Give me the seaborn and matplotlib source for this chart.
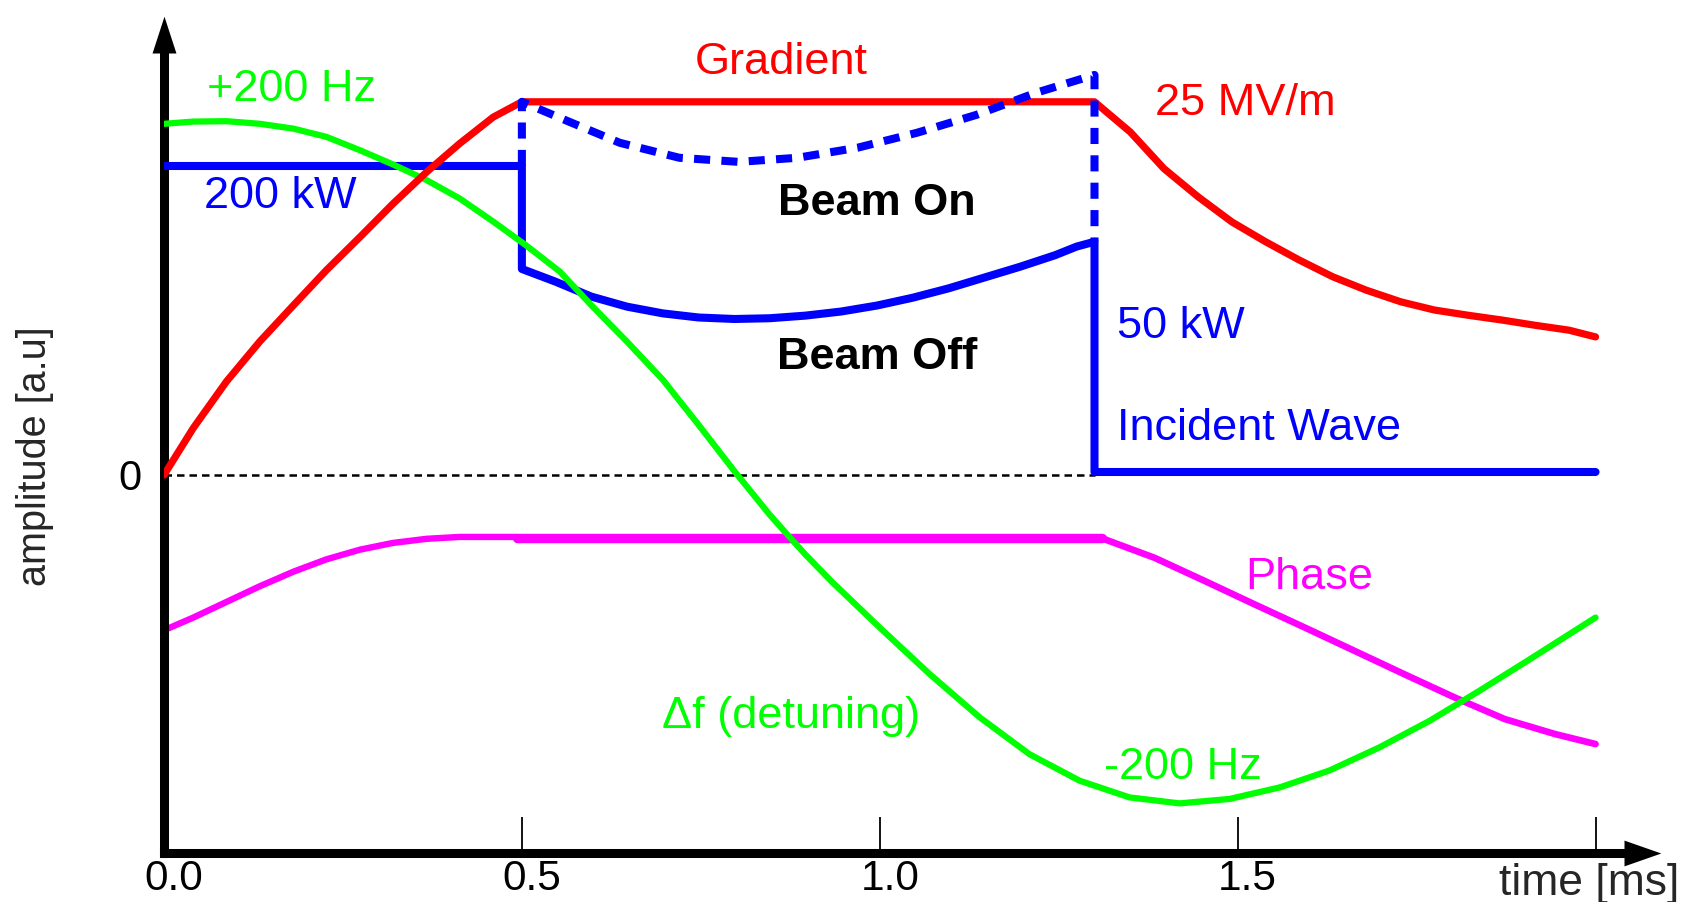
import matplotlib
matplotlib.use("Agg")
import matplotlib.pyplot as plt
import matplotlib.transforms as mtransforms
import seaborn as sns

# Gradient (red)
grad_t = [0, 0.041, 0.0875, 0.134, 0.181, 0.227, 0.274, 0.32, 0.367, 0.413, 0.46, 0.5,
          1.3, 1.35, 1.397, 1.445, 1.492, 1.539, 1.586, 1.633, 1.68, 1.728, 1.775, 1.822,
          1.87, 1.916, 1.963, 2.0]
grad_v = [0, 0.126, 0.251, 0.358, 0.455, 0.549, 0.638, 0.727, 0.812, 0.888, 0.959, 1.0,
          1.0, 0.919, 0.821, 0.745, 0.678, 0.625, 0.576, 0.531, 0.495, 0.464, 0.442, 0.428,
          0.415, 0.401, 0.388, 0.37]

# Incident wave (blue) - beam off, solid
inc_off_t = [0, 0.5, 0.5, 0.547, 0.597, 0.647, 0.697, 0.747, 0.797, 0.846, 0.896, 0.946,
             0.996, 1.046, 1.096, 1.146, 1.196, 1.245, 1.275, 1.3, 1.3, 2.0]
inc_off_v = [0.828, 0.828, 0.552, 0.518, 0.478, 0.451, 0.433, 0.422, 0.418, 0.420, 0.427,
             0.438, 0.454, 0.475, 0.5, 0.529, 0.558, 0.589, 0.612, 0.625, 0.008, 0.008]

# Incident wave (blue) - beam on, dashed
inc_on_t = [0.5, 0.5, 0.553, 0.637, 0.72, 0.803, 0.885, 0.969, 1.052, 1.135, 1.218, 1.3, 1.3]
inc_on_v = [0.828, 1.0, 0.957, 0.89, 0.85, 0.839, 0.85, 0.877, 0.917, 0.965, 1.024, 1.072, 0.625]

# Detuning (green)
det_t = [0, 0.041, 0.0875, 0.134, 0.181, 0.227, 0.274, 0.32, 0.367, 0.413, 0.46, 0.506,
         0.553, 0.597, 0.647, 0.697, 0.747, 0.797, 0.846, 0.871, 0.896, 0.933, 1.0, 1.07,
         1.14, 1.209, 1.279, 1.349, 1.419, 1.489, 1.559, 1.628, 1.698, 1.768, 1.838, 1.908, 2.0]
det_v = [0.941, 0.947, 0.948, 0.941, 0.928, 0.906, 0.87, 0.832, 0.79, 0.741, 0.679, 0.615,
         0.545, 0.455, 0.357, 0.255, 0.134, 0.01, -0.106, -0.16, -0.213, -0.286, -0.409,
         -0.534, -0.65, -0.748, -0.819, -0.864, -0.88, -0.868, -0.837, -0.792, -0.73,
         -0.659, -0.578, -0.494, -0.382]

# Phase (magenta)
phase_rise_t = [0, 0.041, 0.0875, 0.134, 0.181, 0.227, 0.274, 0.32, 0.367, 0.413, 0.465, 0.493]
phase_rise_v = [-0.416, -0.382, -0.34, -0.298, -0.259, -0.226, -0.2, -0.182, -0.171, -0.166,
                -0.166, -0.166]
phase_flat_t = [0.493, 1.311]
phase_flat_v = [-0.169, -0.169]
phase_fall_t = [1.311, 1.384, 1.454, 1.524, 1.594, 1.663, 1.733, 1.803, 1.873, 1.943, 2.0]
phase_fall_v = [-0.170, -0.222, -0.284, -0.347, -0.409, -0.471, -0.534, -0.596, -0.654,
                -0.694, -0.721]

tick_pos = [0, 0.5, 1.0, 1.5, 2.0]
tick_labels = ["0.0", "0.5", "1.0", "1.5", ""]

x_min, x_max = 0, 2.09
y_min, y_max = -1.013, 1.23

sns.set_style("white")
plt.rcParams['font.family'] = ['Liberation Sans', 'DejaVu Sans']

fig = plt.figure(figsize=(16.82, 9.02), dpi=100)
ax = fig.add_axes([0.0975, 0.0543, 0.8894, 0.928])

# zero reference line (up to the step of the incident wave)
ax.hlines(0, 0, 1.3, colors="black", linestyles=(0, (3, 2)), linewidth=1.8, zorder=1)

sns.lineplot(x=phase_rise_t, y=phase_rise_v, sort=False, estimator=None, color="#ff00ff", linewidth=4.6, ax=ax, zorder=2)
sns.lineplot(x=phase_flat_t, y=phase_flat_v, sort=False, estimator=None, color="#ff00ff", linewidth=6.8, ax=ax, zorder=2)
sns.lineplot(x=phase_fall_t, y=phase_fall_v, sort=False, estimator=None, color="#ff00ff", linewidth=4.8, ax=ax, zorder=2)

sns.lineplot(x=inc_off_t, y=inc_off_v, sort=False, estimator=None, color="#0000ff", linewidth=5.8, ax=ax, zorder=3)
sns.lineplot(x=det_t, y=det_v, sort=False, estimator=None, color="#00ff00", linewidth=4.5, ax=ax, zorder=4)
sns.lineplot(x=grad_t, y=grad_v, sort=False, estimator=None, color="#ff0000", linewidth=5.2, ax=ax, zorder=4)
sns.lineplot(x=inc_on_t, y=inc_on_v, sort=False, estimator=None, color="#0000ff", linewidth=5.8,
             linestyle=(0, (2.0, 1.4)), ax=ax, zorder=5)

ax.set_xlim(x_min, x_max)
ax.set_ylim(y_min, y_max)

# axes with arrow heads
for side in ["top", "right"]:
    ax.spines[side].set_visible(False)
for side in ["left", "bottom"]:
    ax.spines[side].set_linewidth(6.5)
    ax.spines[side].set_color("black")
ax.spines["left"].set_bounds(y_min, 1.13)
ax.spines["bottom"].set_bounds(0, 2.04)
ax.plot([0], [1.13], marker=[(-0.65, 0), (0.65, 0), (0, 2)], markersize=53, color="black",
        markeredgewidth=0, clip_on=False, zorder=6)
ax.plot([2.04], [y_min], marker=[(0, -0.7), (0, 0.7), (2, 0)], markersize=53, color="black",
        markeredgewidth=0, clip_on=False, zorder=6)

ax.set_xticks(tick_pos)
ax.set_xticklabels(tick_labels)
ax.tick_params(axis="x", bottom=True, direction="in", length=26, width=1.3, pad=4,
               labelsize=30.5, colors="black")
shift = mtransforms.ScaledTranslation(0.10, 0, fig.dpi_scale_trans)
for lab in ax.get_xticklabels():
    lab.set_transform(lab.get_transform() + shift)
ax.set_yticks([0])
ax.set_yticklabels(["0"])
ax.tick_params(axis="y", left=False, length=0, pad=16, labelsize=30, colors="black")

ax.set_xlabel("time [ms]", fontsize=32)
ax.xaxis.set_label_coords(1.0127, -0.036)
ax.xaxis.label.set_ha("right")
ax.xaxis.label.set_va("center")
ax.set_ylabel("amplitude [a.u]", fontsize=28.5)
ax.yaxis.set_label_coords(-0.0735, 0.474)

# annotations
fs = 32.5
ax.text(0.862, 1.106, "Gradient", color="#ff0000", fontsize=fs, ha="center", va="center")
ax.text(1.384, 0.996, "25 MV/m", color="#ff0000", fontsize=fs, ha="left", va="center")
ax.text(0.06, 1.034, "+200 Hz", color="#00ff00", fontsize=fs, ha="left", va="center")
ax.text(0.056, 0.747, "200 kW", color="#0000ff", fontsize=fs, ha="left", va="center")
ax.text(0.996, 0.728, "Beam On", color="black", fontsize=fs, fontweight="bold", ha="center", va="center")
ax.text(0.996, 0.315, "Beam Off", color="black", fontsize=fs, fontweight="bold", ha="center", va="center")
ax.text(1.331, 0.399, "50 kW", color="#0000ff", fontsize=fs, ha="left", va="center")
ax.text(1.331, 0.125, "Incident Wave", color="#0000ff", fontsize=fs, ha="left", va="center")
ax.text(1.511, -0.274, "Phase", color="#ff00ff", fontsize=fs, ha="left", va="center")
ax.text(0.696, -0.647, "\u0394f (detuning)", color="#00ff00", fontsize=fs, ha="left", va="center")
ax.text(1.313, -0.784, "-200 Hz", color="#00ff00", fontsize=fs, ha="left", va="center")

fig.savefig("out.png", dpi=100)
